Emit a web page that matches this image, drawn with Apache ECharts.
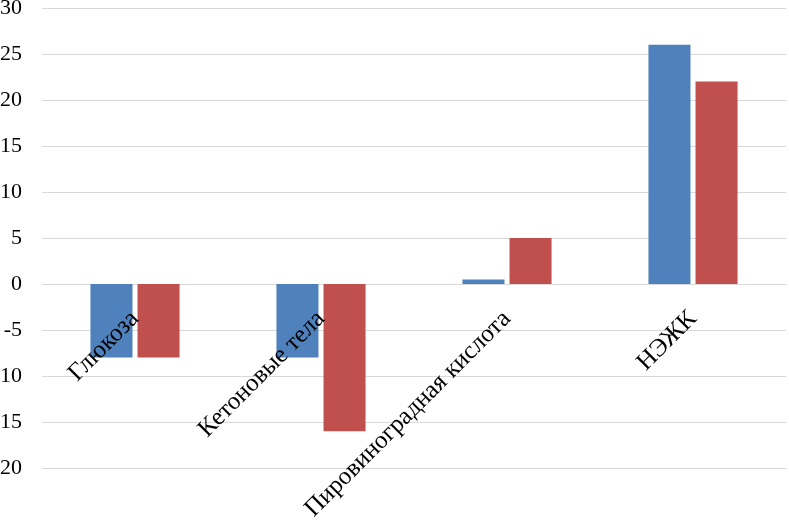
<!DOCTYPE html>
<html>
<head>
<meta charset="utf-8">
<script src="https://cdn.jsdelivr.net/npm/echarts@6/dist/echarts.min.js"></script>
<style>
html,body{margin:0;padding:0;background:#fff;}
#c{width:789px;height:521px;}
</style>
</head>
<body>
<div id="c"></div>
<script>
var categories = ['Глюкоза', 'Кетоновые тела', 'Пировиноградная кислота', 'НЭЖК'];
var seriesBlue = [-8, -8, 0.5, 26];
var seriesRed = [-8, -16, 5, 22];
var yMin = -20, yMax = 30, yStep = 5;

var chart = echarts.init(document.getElementById('c'), null, {renderer: 'canvas'});
var font = 'Liberation Serif, Times New Roman, serif';
chart.setOption({
  animation: false,
  backgroundColor: '#ffffff',
  grid: {left: 42, right: 3, top: 8, bottom: 53, containLabel: false, outerBoundsMode: 'none'},
  xAxis: {
    type: 'category',
    position: 'bottom',
    offset: -184,
    z: 10,
    data: categories,
    axisLine: {show: false, onZero: false},
    axisTick: {show: false},
    axisLabel: {rotate: 45, margin: 31, interval: 0, color: '#000', fontFamily: font, fontSize: 25, hideOverlap: false}
  },
  yAxis: {
    type: 'value',
    min: yMin, max: yMax, interval: yStep,
    axisLine: {show: false},
    axisTick: {show: false},
    splitLine: {lineStyle: {color: '#d9d9d9', width: 1}},
    axisLabel: {margin: 20, color: '#000', fontFamily: font, fontSize: 22}
  },
  series: [
    {type: 'bar', data: seriesBlue, barWidth: '22.6%', barGap: '12%', itemStyle: {color: '#4f81bd'}},
    {type: 'bar', data: seriesRed, barWidth: '22.6%', barGap: '12%', itemStyle: {color: '#c0504d'}}
  ]
});
</script>
</body>
</html>
